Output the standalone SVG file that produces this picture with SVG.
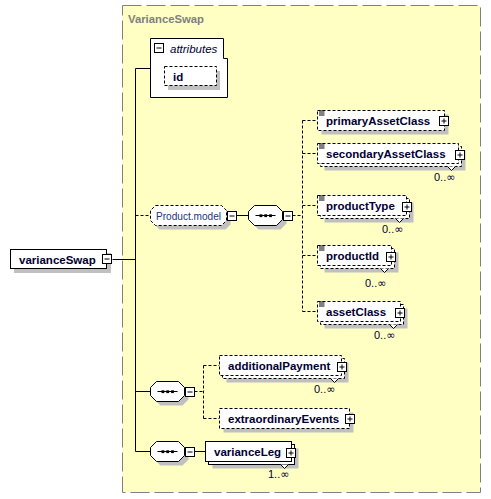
<svg xmlns="http://www.w3.org/2000/svg" xmlns:xlink="http://www.w3.org/1999/xlink" width="491" height="499" viewBox="0 0 491 499">
<style>
.bx{fill:#fff;stroke:#000;stroke-width:1}
.opt{stroke-dasharray:3 2}
.sh{fill:#c0c0c0;stroke:none}
.ln{fill:none;stroke:#000;stroke-width:1}
.dl{stroke-dasharray:3 2}
.t{font-family:"Liberation Sans",Arial,sans-serif;font-size:11.5px;font-weight:bold;fill:#000033}
.o{font-family:"Liberation Sans",Arial,sans-serif;font-size:11px;fill:#000033}
.inf{font-family:"DejaVu Sans",sans-serif;font-size:11px}
</style>
<defs>
<g id="minus"><rect x="0.5" y="0.5" width="9" height="9" fill="#fff" stroke="#000"/><path d="M2.5 5H7.5" stroke="#000"/></g>
<g id="plus"><rect x="0.5" y="0.5" width="9" height="9" fill="#fff" stroke="#000"/><path d="M2.5 5H7.5M5 2.5V7.5" stroke="#000"/></g>
<g id="ref"><path d="M1.5 1.5H7M1.5 3.5H7M1.5 5.5H7" stroke="#000" fill="none"/></g>
<g id="seqicon"><path d="M7 10H27" stroke="#000"/><rect x="11" y="8.8" width="2.8" height="2.8" fill="#000"/><rect x="15.8" y="8.8" width="2.8" height="2.8" fill="#000"/><rect x="20.6" y="8.8" width="2.8" height="2.8" fill="#000"/></g>
</defs>
<rect width="491" height="499" fill="#fff"/>
<g id="VarianceSwap-type">
<rect x="122.5" y="5.5" width="358" height="487" fill="#ffffc4" stroke="#808080" stroke-dasharray="19 5"/>
<text x="128" y="23" font-family="Liberation Sans,Arial,sans-serif" font-size="11.3" font-weight="bold" fill="#808080">VarianceSwap</text>
</g>
<g id="connectors">
<path class="ln" d="M112.5 259.5H135.5M135.5 68.5V451.5M135.5 68.5H150.5M236.5 215.5H248.5M135.5 391.5H150.5M135.5 451.5H150.5M194.5 451.5H205.5"/>
<path class="ln dl" d="M135.5 215.5H150.5M292.5 215.5H302.5M302.5 120.5V311.5M302.5 120.5H317.5M302.5 153.5H317.5M302.5 205.5H317.5M302.5 255.5H317.5M302.5 311.5H317.5M194.5 391.5H203.5M203.5 365.5V418.5M203.5 365.5H219.5M203.5 418.5H219.5"/>
</g>
<g id="varianceSwap">
<rect class="sh" x="14" y="253" width="97" height="20"/>
<rect class="bx" x="10.5" y="249.5" width="96" height="19"/>
<text class="t" x="19" y="263.5">varianceSwap</text>
<use xlink:href="#minus" x="102" y="254"/>
</g>
<g id="attributes">
<path class="bx" d="M150.5 38.5H223.5V58.5H227.5V97.5H150.5Z"/>
<use xlink:href="#minus" x="154" y="43"/>
<text x="170" y="53" font-family="Liberation Sans,Arial,sans-serif" font-size="11.5" font-style="italic" fill="#000033">attributes</text>
</g>
<g id="id">
<rect class="sh" x="168" y="71" width="52" height="19"/>
<rect class="bx opt" x="164.5" y="66.5" width="52" height="19"/>
<text class="t" x="173" y="81">id</text>
</g>
<g id="Product.model">
<path class="sh" d="M159.5 209.5H225.5L230.5 214.5V224.5L225.5 229.5H159.5L154.5 224.5V214.5Z"/>
<path class="bx opt" d="M155.5 205.5H221.5L226.5 210.5V220.5L221.5 225.5H155.5L150.5 220.5V210.5Z"/>
<text x="156" y="220" font-family="Liberation Sans,Arial,sans-serif" font-size="11" textLength="65" lengthAdjust="spacingAndGlyphs" fill="#1a3380">Product.model</text>
<use xlink:href="#minus" x="227" y="211"/>
</g>
<g id="sequence1">
<path class="sh" d="M258.5 209.5H280.5L286.5 215.5V223.5L280.5 229.5H258.5L252.5 223.5V215.5Z"/>
<path class="bx" d="M254.5 205.5H276.5L282.5 211.5V219.5L276.5 225.5H254.5L248.5 219.5V211.5Z"/>
<use xlink:href="#seqicon" x="248.5" y="205.5"/>
<use xlink:href="#minus" x="283" y="211"/>
</g>
<g id="primaryAssetClass">
<rect class="sh" x="321.5" y="114.5" width="127" height="20"/>
<rect class="bx opt" x="317.5" y="110.5" width="127" height="20"/>
<use xlink:href="#ref" x="317.5" y="109.5"/>
<text class="t" x="326" y="125">primaryAssetClass</text>
<use xlink:href="#plus" x="439" y="116"/>
</g>
<g id="secondaryAssetClass">
<rect class="sh" x="324.5" y="150.5" width="141" height="20"/>
<rect class="bx opt" x="320.5" y="146.5" width="141" height="20"/>
<rect class="bx opt" x="317.5" y="143.5" width="141" height="20"/>
<path class="bx" d="M447.5 166.5L451.5 170.5L455.5 166.5"/>
<use xlink:href="#ref" x="317.5" y="142.5"/>
<text class="t" x="326" y="158">secondaryAssetClass</text>
<use xlink:href="#plus" x="455" y="150"/>
<text class="o" x="434" y="180.5">0..<tspan class="inf">∞</tspan></text>
</g>
<g id="productType">
<rect class="sh" x="324.5" y="202.5" width="89" height="20"/>
<rect class="bx opt" x="320.5" y="198.5" width="89" height="20"/>
<rect class="bx opt" x="317.5" y="195.5" width="89" height="20"/>
<path class="bx" d="M395.5 218.5L399.5 222.5L403.5 218.5"/>
<use xlink:href="#ref" x="317.5" y="194.5"/>
<text class="t" x="326" y="210">productType</text>
<use xlink:href="#plus" x="402" y="202"/>
<text class="o" x="382" y="233">0..<tspan class="inf">∞</tspan></text>
</g>
<g id="productId">
<rect class="sh" x="324.5" y="252.5" width="74" height="20"/>
<rect class="bx opt" x="320.5" y="248.5" width="74" height="20"/>
<rect class="bx opt" x="317.5" y="245.5" width="74" height="20"/>
<path class="bx" d="M380.5 268.5L384.5 272.5L388.5 268.5"/>
<use xlink:href="#ref" x="317.5" y="244.5"/>
<text class="t" x="326" y="260">productId</text>
<use xlink:href="#plus" x="386" y="252"/>
<text class="o" x="365" y="287">0..<tspan class="inf">∞</tspan></text>
</g>
<g id="assetClass">
<rect class="sh" x="324.5" y="308.5" width="83" height="20"/>
<rect class="bx opt" x="320.5" y="304.5" width="83" height="20"/>
<rect class="bx opt" x="317.5" y="301.5" width="83" height="20"/>
<path class="bx" d="M389.5 324.5L393.5 328.5L397.5 324.5"/>
<use xlink:href="#ref" x="317.5" y="300.5"/>
<text class="t" x="326" y="316">assetClass</text>
<use xlink:href="#plus" x="395" y="308"/>
<text class="o" x="374" y="339">0..<tspan class="inf">∞</tspan></text>
</g>
<g id="sequence2">
<path class="sh" d="M160.5 385.5H182.5L188.5 391.5V399.5L182.5 405.5H160.5L154.5 399.5V391.5Z"/>
<path class="bx" d="M156.5 381.5H178.5L184.5 387.5V395.5L178.5 401.5H156.5L150.5 395.5V387.5Z"/>
<use xlink:href="#seqicon" x="150.5" y="381.5"/>
<use xlink:href="#minus" x="185" y="387"/>
</g>
<g id="additionalPayment">
<rect class="sh" x="226.5" y="362.5" width="122" height="20"/>
<rect class="bx opt" x="222.5" y="358.5" width="122" height="20"/>
<rect class="bx opt" x="219.5" y="355.5" width="122" height="20"/>
<path class="bx" d="M330.5 378.5L334.5 382.5L338.5 378.5"/>
<text class="t" x="228" y="370">additionalPayment</text>
<use xlink:href="#plus" x="337" y="362"/>
<text class="o" x="314" y="393">0..<tspan class="inf">∞</tspan></text>
</g>
<g id="extraordinaryEvents">
<rect class="sh" x="223.5" y="412.5" width="130" height="20"/>
<rect class="bx opt" x="219.5" y="408.5" width="130" height="20"/>
<text class="t" x="228" y="423">extraordinaryEvents</text>
<use xlink:href="#plus" x="345" y="414"/>
</g>
<g id="sequence3">
<path class="sh" d="M160.5 445.5H182.5L188.5 451.5V459.5L182.5 465.5H160.5L154.5 459.5V451.5Z"/>
<path class="bx" d="M156.5 441.5H178.5L184.5 447.5V455.5L178.5 461.5H156.5L150.5 455.5V447.5Z"/>
<use xlink:href="#seqicon" x="150.5" y="441.5"/>
<use xlink:href="#minus" x="185" y="447"/>
</g>
<g id="varianceLeg">
<rect class="sh" x="212.5" y="448.5" width="86" height="20"/>
<rect class="bx" x="208.5" y="444.5" width="86" height="20"/>
<rect class="bx" x="205.5" y="441.5" width="86" height="20"/>
<path class="bx" d="M280.5 464.5L284.5 468.5L288.5 464.5"/>
<text class="t" x="214" y="456">varianceLeg</text>
<use xlink:href="#plus" x="286" y="448"/>
<text class="o" x="268" y="478">1..<tspan class="inf">∞</tspan></text>
</g>
</svg>
